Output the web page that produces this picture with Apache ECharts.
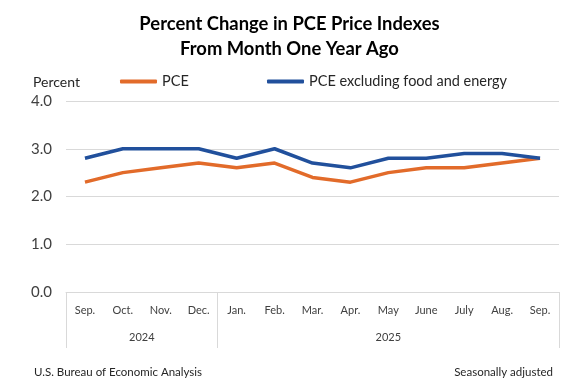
<!DOCTYPE html>
<html><head><meta charset="utf-8">
<script src="https://cdn.jsdelivr.net/npm/echarts@6/dist/echarts.min.js"></script>
<style>html,body{margin:0;padding:0;background:#fff}#c{width:579px;height:390px}</style>
</head><body><div id="c"></div>
<script>
const months = ['Sep.','Oct.','Nov.','Dec.','Jan.','Feb.','Mar.','Apr.','May','June','July','Aug.','Sep.'];
const years = ['2024','2025'];
const yearStart = [0, 4];   // category index where each year starts
const yearEnd = [4, 13];
const pce = [2.3, 2.5, 2.6, 2.7, 2.6, 2.7, 2.4, 2.3, 2.5, 2.6, 2.6, 2.7, 2.8];
const core = [2.8, 3.0, 3.0, 3.0, 2.8, 3.0, 2.7, 2.6, 2.8, 2.8, 2.9, 2.9, 2.8];
const yTicks = [0, 1, 2, 3, 4];

const F = 'Lato, "Open Sans", sans-serif';
const yearCenters = years.map((y, i) => (yearStart[i] + yearEnd[i]) / 2);
const bounds = [0].concat(yearEnd);

const legendText = { fontFamily: F, fontSize: 14.5, color: '#262626' };

const chart = echarts.init(document.getElementById('c'));
chart.setOption({
  animation: false,
  textStyle: { fontFamily: F },
  title: [
    { text: 'Percent Change in PCE Price Indexes\nFrom Month One Year Ago', left: 'center', top: 7,
      textStyle: { fontFamily: F, fontSize: 18.4, fontWeight: 'bold', color: '#000', lineHeight: 25 } },
    { text: 'Percent', left: 28, top: 70, textStyle: { fontFamily: F, fontSize: 14, fontWeight: 'normal', color: '#262626' } },
    { text: 'U.S. Bureau of Economic Analysis', left: 29, top: 361, textStyle: { fontFamily: F, fontSize: 11.5, fontWeight: 'normal', color: '#262626' } },
    { text: 'Seasonally adjusted', right: 21, top: 361, textStyle: { fontFamily: F, fontSize: 11.5, fontWeight: 'normal', color: '#262626' } }
  ],
  legend: [
    { left: 120, top: 74, padding: 0, itemWidth: 37, itemHeight: 4, icon: 'roundRect', textStyle: legendText, data: ['PCE'] },
    { left: 267, top: 74, padding: 0, itemWidth: 37, itemHeight: 4, icon: 'roundRect', textStyle: legendText, data: ['PCE excluding food and energy'] }
  ],
  grid: { left: 66, right: 20, top: 101, bottom: 98, containLabel: false },
  xAxis: [
    { type: 'category', data: months, boundaryGap: true,
      axisLine: { lineStyle: { color: '#d9d9d9', width: 1 } },
      axisTick: { show: false },
      axisLabel: { margin: 13, fontSize: 11, color: '#404040', fontFamily: F, interval: 0 } },
    { type: 'value', position: 'bottom', min: 0, max: months.length,
      axisLine: { show: false }, splitLine: { show: false },
      axisTick: { show: true, customValues: bounds, length: 56, lineStyle: { color: '#d9d9d9' } },
      axisLabel: { show: true, customValues: yearCenters, margin: 40, fontSize: 11, color: '#404040', fontFamily: F,
        formatter: v => { const i = yearCenters.indexOf(v); return i >= 0 ? years[i] : ''; } } }
  ],
  yAxis: {
    type: 'value', min: 0, max: 4, interval: 1,
    axisLine: { show: false }, axisTick: { show: false },
    axisLabel: { margin: 14, fontSize: 15, color: '#404040', fontFamily: F, formatter: v => v.toFixed(1),
      customValues: yTicks },
    splitLine: { lineStyle: { color: '#d9d9d9', width: 1 } }
  },
  series: [
    { name: 'PCE', type: 'line', data: pce, xAxisIndex: 0, showSymbol: false, symbol: 'none',
      lineStyle: { color: '#E26B2A', width: 3.5 }, itemStyle: { color: '#E26B2A' } },
    { name: 'PCE excluding food and energy', type: 'line', data: core, xAxisIndex: 0, showSymbol: false, symbol: 'none',
      lineStyle: { color: '#21509C', width: 3.5 }, itemStyle: { color: '#21509C' } }
  ]
});
</script></body></html>
